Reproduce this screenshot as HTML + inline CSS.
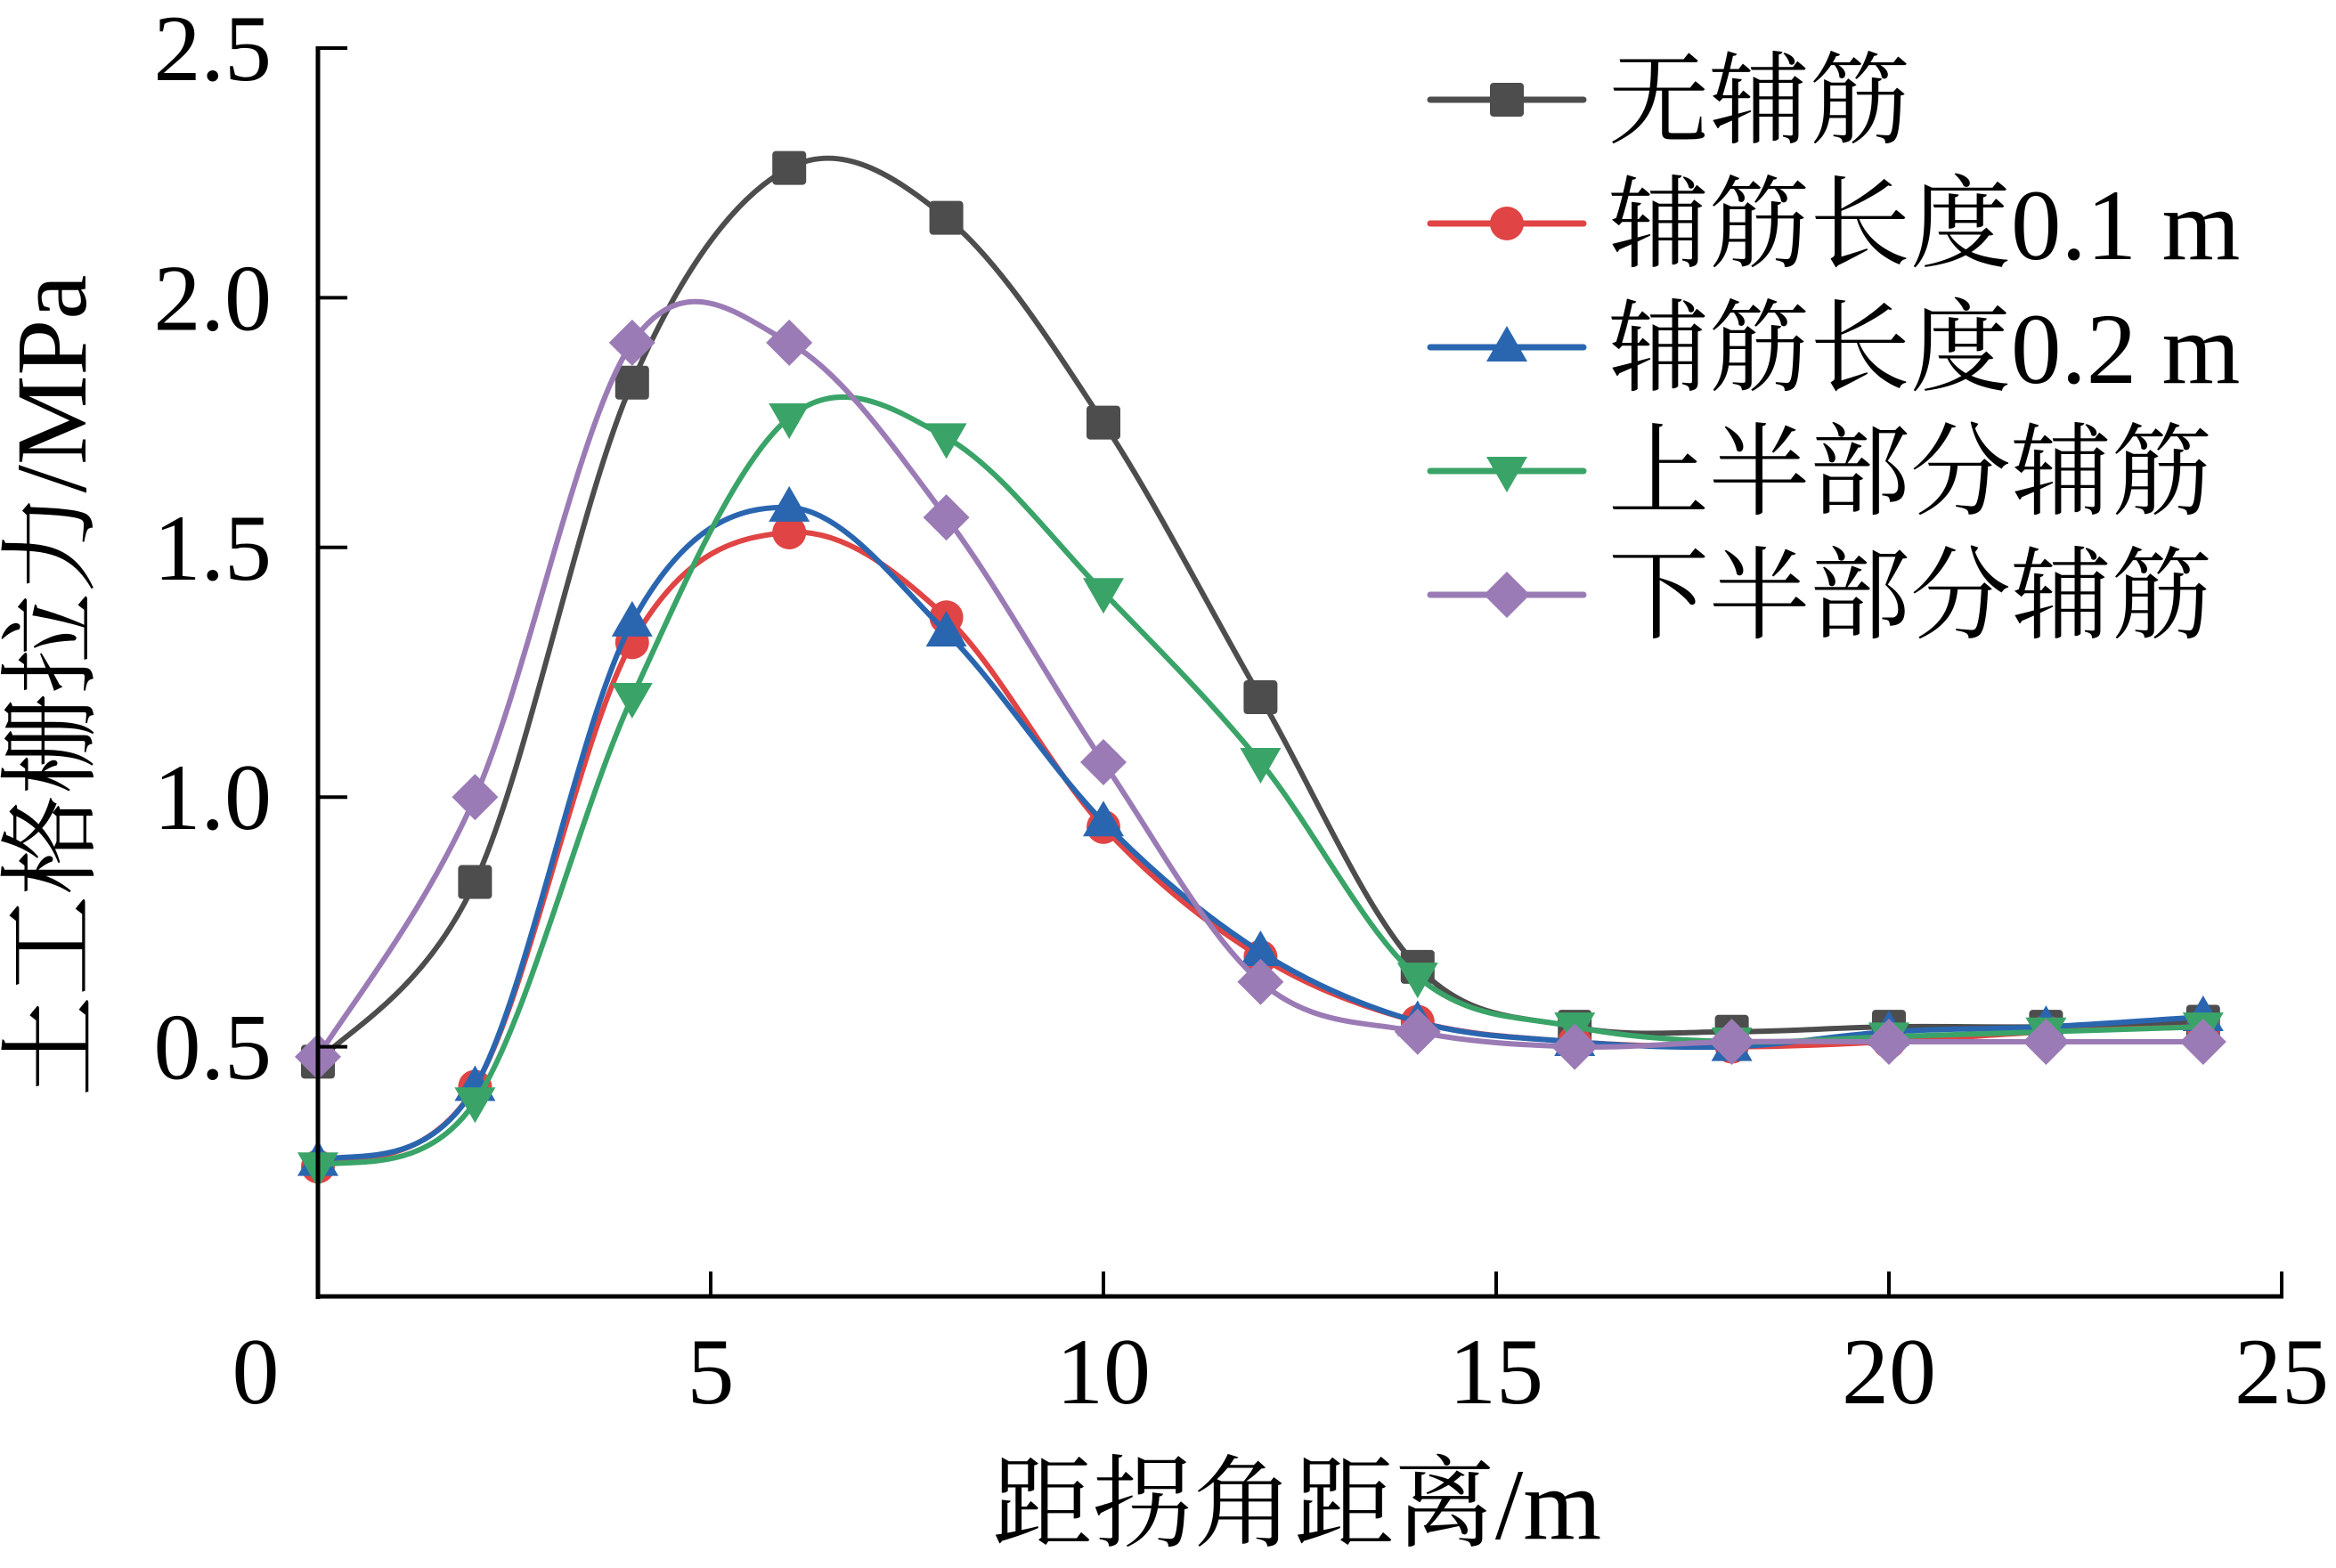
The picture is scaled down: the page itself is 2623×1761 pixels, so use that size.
<!DOCTYPE html>
<html><head><meta charset="utf-8">
<style>
html,body{margin:0;padding:0;background:#fff;}
svg{display:block;}
text{fill:#000;}
</style></head>
<body>
<svg id="chart" width="2623" height="1761" viewBox="0 0 2623 1761" xmlns="http://www.w3.org/2000/svg">
<g id="plot"></g>
<g id="axes"></g>
<g id="legend"></g>
<text transform="translate(96,770) rotate(-90)" text-anchor="middle" font-family="'Liberation Serif','Noto Serif CJK SC',serif" font-size="113">土工格栅拉力/MPa</text>
<text x="1456" y="1728" text-anchor="middle" font-family="'Liberation Serif','Noto Serif CJK SC',serif" font-size="113">距拐角距离/m</text>
</svg>
<script>
const xValues = [0,2,4,6,8,10,12,14,16,18,20,22,24];
const seriesNames = ['无辅筋','辅筋长度0.1 m','辅筋长度0.2 m','上半部分辅筋','下半部分辅筋'];
const sNone = [0.47,0.83,1.83,2.26,2.16,1.75,1.20,0.66,0.54,0.53,0.54,0.54,0.55];
const sL01 = [0.26,0.42,1.31,1.53,1.36,0.94,0.68,0.55,0.51,0.50,0.51,0.53,0.54];
const sL02 = [0.27,0.42,1.35,1.58,1.33,0.95,0.69,0.55,0.51,0.50,0.53,0.54,0.56];
const sUpper = [0.26,0.39,1.20,1.76,1.72,1.41,1.07,0.64,0.54,0.51,0.52,0.53,0.54];
const sLower = [0.48,1.00,1.91,1.91,1.56,1.07,0.63,0.53,0.50,0.51,0.51,0.51,0.51];
const xTicks = [0,5,10,15,20,25];
const yTicks = [0.5,1.0,1.5,2.0,2.5];
const yTickLabels = ['0.5','1.0','1.5','2.0','2.5'];

const NS='http://www.w3.org/2000/svg';
const X0=357,X1=2562,Y0=1456,Y1=54;
function sx(v){return X0+(v-0)/(25-0)*(X1-X0);}
function sy(v){return Y0-(v-0)/(2.5-0)*(Y0-Y1);}
function mk(tag,attrs,parent){const e=document.createElementNS(NS,tag);for(const k in attrs)e.setAttribute(k,attrs[k]);parent.appendChild(e);return e;}

const plot=document.getElementById('plot'),axes=document.getElementById('axes'),legend=document.getElementById('legend');
const series=[
 {d:sNone,c:'#4d4d4d',m:'square',n:'no-reinforcement'},
 {d:sL01,c:'#e04444',m:'circle',n:'length-0-1m'},
 {d:sL02,c:'#2a66b0',m:'tri-up',n:'length-0-2m'},
 {d:sUpper,c:'#3aa468',m:'tri-down',n:'upper-half'},
 {d:sLower,c:'#9b7bb5',m:'diamond',n:'lower-half'}];

function smoothPath(pts){
  let d='M'+pts[0][0]+','+pts[0][1];
  for(let i=0;i<pts.length-1;i++){
    const p0=pts[i-1]||pts[i],p1=pts[i],p2=pts[i+1],p3=pts[i+2]||p2;
    const t=1/6;
    const c1=[p1[0]+(p2[0]-p0[0])*t,p1[1]+(p2[1]-p0[1])*t];
    const c2=[p2[0]-(p3[0]-p1[0])*t,p2[1]-(p3[1]-p1[1])*t];
    d+=' C'+c1[0]+','+c1[1]+' '+c2[0]+','+c2[1]+' '+p2[0]+','+p2[1];
  }
  return d;
}
function marker(type,x,y,c,parent){
  const r=19;let e;
  if(type==='square')e=mk('rect',{x:x-r,y:y-r,width:2*r,height:2*r,rx:4,fill:c},parent);
  else if(type==='circle')e=mk('circle',{cx:x,cy:y,r:r,fill:c},parent);
  else if(type==='tri-up')e=mk('polygon',{points:`${x},${y-24} ${x+23},${y+16} ${x-23},${y+16}`,fill:c},parent);
  else if(type==='tri-down')e=mk('polygon',{points:`${x},${y+24} ${x+23},${y-16} ${x-23},${y-16}`,fill:c},parent);
  else e=mk('polygon',{points:`${x},${y-26} ${x+26},${y} ${x},${y+26} ${x-26},${y}`,fill:c},parent);
  return e;
}
series.forEach((s,si)=>{
  const g=mk('g',{},plot);
  
  
  const pts=s.d.map((v,i)=>[sx(xValues[i]),sy(v)]);
  const p=mk('path',{d:smoothPath(pts),fill:'none',stroke:s.c,'stroke-width':6},g);
  
  
  pts.forEach((pt,i)=>{
    const m=marker(s.m,pt[0],pt[1],s.c,g);
    
    
  });
  const ly=112+si*139;
  const lg=mk('g',{},legend);
  
  
  mk('line',{x1:1606,y1:ly,x2:1778,y2:ly,stroke:s.c,'stroke-width':7,'stroke-linecap':'round'},lg);
  marker(s.m,1692,ly,s.c,lg);
  const t=mk('text',{x:1806,y:ly+40,'font-family':"'Liberation Serif','Noto Serif CJK SC',serif",'font-size':113},lg);
  t.textContent=seriesNames[si];
});
mk('line',{x1:X0,y1:Y1-2,x2:X0,y2:Y0+3,stroke:'#000','stroke-width':5},axes);
mk('line',{x1:X0-2,y1:Y0,x2:X1+2,y2:Y0,stroke:'#000','stroke-width':5},axes);
xTicks.forEach(v=>{
  const x=sx(v);
  mk('line',{x1:x,y1:Y0,x2:x,y2:Y0-28,stroke:'#000','stroke-width':4},axes);
  const t=mk('text',{x:(v===0?x-70:x),y:Y0+120,'text-anchor':'middle','font-family':"'Liberation Serif',serif",'font-size':106},axes);
  
  
  t.textContent=String(v);
});
yTicks.forEach((v,i)=>{
  const y=sy(v);
  mk('line',{x1:X0,y1:y,x2:X0+33,y2:y,stroke:'#000','stroke-width':4},axes);
  const t=mk('text',{x:X0-52,y:y+36,'text-anchor':'end','font-family':"'Liberation Serif',serif",'font-size':106},axes);
  
  
  t.textContent=yTickLabels[i];
});
</script>
</body></html>
